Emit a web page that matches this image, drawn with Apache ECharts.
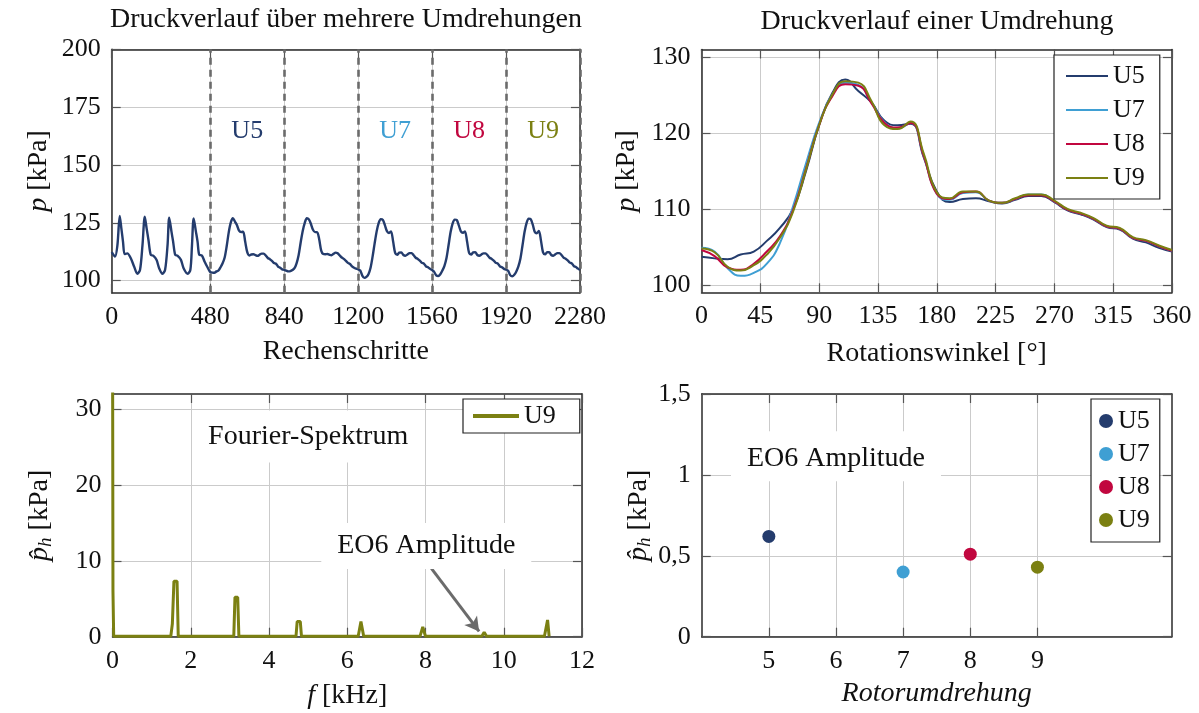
<!DOCTYPE html>
<html>
<head>
<meta charset="utf-8">
<script src="https://cdn.jsdelivr.net/npm/echarts@6/dist/echarts.min.js"></script>
<style>
  html, body { margin: 0; padding: 0; background: #ffffff; }
  #chart { width: 1199px; height: 713px; }
</style>
</head>
<body>
<div id="chart"></div>
<script>
// ---------------------------------------------------------------------------
// Messdaten
// ---------------------------------------------------------------------------

// Rechenschritte: Achsenteilung = Grenzen der Umdrehungen
const schrittTicks = [0, 480, 840, 1200, 1560, 1920, 2280];

// Anlauf vor der ersten ausgewerteten Umdrehung (Schritt, Druck in kPa)
const anlaufSchritt = [0, 16, 28, 39, 47, 55, 63, 76, 93, 109, 125, 138, 150, 161, 170, 179, 190, 202, 218, 231,
                       247, 260, 272, 280, 291, 299, 309, 320, 337, 350, 370, 383, 391, 399, 410, 418, 426, 439, 452, 467];
const anlaufDruck   = [112.3, 110.4, 115.5, 128.0, 122.6, 116.9, 111.5, 111.8, 109.7, 106.1, 103.0, 104.7, 115.5, 127.6, 122.6, 117.6, 111.2, 110.8, 109.0, 105.4,
                       103.0, 104.7, 115.5, 127.2, 121.2, 116.9, 111.2, 110.8, 109.0, 105.4, 103.0, 104.7, 115.5, 126.9, 121.2, 116.9, 111.2, 110.9, 108.3, 105.7];

// Rotationswinkel einer Umdrehung in Grad
const winkel = [0, 10, 20, 30, 40, 50, 60, 70, 80, 90, 100, 110, 120, 130, 140, 150, 160, 170, 180,
                190, 200, 210, 220, 230, 240, 250, 260, 270, 280, 290, 300, 310, 320, 330, 340, 350, 360];

// Druck je Umdrehung in kPa
const druckU5 = [103.7, 103.5, 103.4, 104.0, 104.4, 105.8, 107.5, 110.0, 115.0, 121.0, 125.2, 127.0, 125.5, 124.0, 121.6, 121.0, 121.2, 116.8, 112.3,
                 110.9, 111.3, 111.4, 111.0, 110.7, 111.2, 111.7, 111.7, 110.9, 109.8, 109.3, 108.6, 107.6, 107.3, 106.1, 105.6, 104.9, 104.4];
const druckU6 = [104.7, 104.3, 104.0, 104.1, 104.6, 105.4, 107.5, 111.0, 116.5, 121.5, 125.0, 127.0, 126.5, 124.5, 122.0, 121.0, 121.0, 118.0, 113.0,
                 111.5, 111.4, 111.5, 111.2, 111.0, 111.6, 112.1, 111.8, 110.9, 110.0, 109.4, 108.6, 107.7, 107.2, 106.2, 105.6, 105.2, 105.0];
const druckU7 = [104.9, 104.4, 102.2, 101.2, 101.6, 102.8, 105.5, 110.3, 116.0, 121.3, 125.0, 126.6, 126.3, 124.0, 121.4, 120.6, 121.3, 117.0, 112.0,
                 111.2, 112.1, 112.2, 111.1, 110.8, 111.3, 111.9, 111.9, 111.0, 109.9, 109.4, 108.7, 107.7, 107.4, 106.2, 105.8, 105.1, 104.5];
const druckU8 = [104.6, 103.8, 102.3, 102.0, 102.8, 104.4, 106.4, 109.8, 115.3, 121.0, 124.8, 126.4, 126.2, 123.9, 121.3, 120.7, 121.3, 117.0, 112.0,
                 111.3, 112.2, 112.3, 111.1, 110.8, 111.3, 111.8, 111.8, 111.0, 109.9, 109.4, 108.7, 107.7, 107.4, 106.2, 105.8, 105.1, 104.5];
const druckU9 = [104.8, 104.3, 102.4, 101.9, 102.6, 104.0, 106.2, 109.6, 115.2, 121.0, 125.0, 126.8, 126.6, 124.2, 121.0, 120.5, 121.5, 117.3, 112.2,
                 111.4, 112.3, 112.3, 111.1, 110.8, 111.4, 111.9, 111.9, 111.1, 110.0, 109.5, 108.8, 107.8, 107.5, 106.3, 105.9, 105.2, 104.6];

// Fourier-Spektrum U9: Frequenz in kHz, Amplitude in kPa
const frequenz  = [0, 0.012, 0.03, 1.49, 1.53, 1.56, 1.57, 1.65, 1.68, 3.10, 3.13, 3.20, 3.23, 4.69, 4.72, 4.80, 4.83,
                   6.28, 6.35, 6.42, 7.86, 7.93, 8.00, 9.44, 9.50, 9.56, 11.04, 11.12, 11.16];
const amplitude = [45, 6, 0.05, 0.05, 1.7, 1.8, 7.3, 7.3, 0.05, 0.05, 5.2, 5.2, 0.05, 0.05, 2.0, 2.0, 0.05,
                   0.05, 2.0, 0.05, 0.05, 1.3, 0.05, 0.05, 0.6, 0.05, 0.05, 2.2, 0.05];

// EO6-Amplitude je Rotorumdrehung
const umdrehung    = [5, 7, 8, 9];
const eo6Amplitude = [0.62, 0.40, 0.51, 0.43];
const namen        = ['U5', 'U7', 'U8', 'U9'];

// ---------------------------------------------------------------------------
// Darstellung
// ---------------------------------------------------------------------------
const FONT = '"Liberation Serif", "Times New Roman", serif';
const FS = 26;      // Ziffern und Legenden
const FW = 28;      // Titel, Achsennamen, Hinweise
const TEXT = '#111111';
const farben = ['#243c6d', '#3f9fd3', '#c1073f', '#7b8012'];
const GRAU = '#6b6b6b';

// Durchgehender Verlauf: Anlauf + Umdrehungen U5 ... U9
const umlaeufe = [druckU5, druckU6, druckU7, druckU8, druckU9];
const verlauf = anlaufSchritt.map((s, i) => [s, anlaufDruck[i]]);
umlaeufe.forEach((werte, k) => {
  const start = schrittTicks[k + 1];
  werte.forEach((p, i) => {
    if (i === werte.length - 1 && k < umlaeufe.length - 1) return;
    verlauf.push([start + winkel[i], p]);
  });
});

// Beschriftung der Umdrehungen im Verlauf (U6 ohne Beschriftung)
const markenIndex = [1, 3, 4, 5];

function achsenPaar(dim, gridIndex, min, max, ticks, extra) {
  const tickOpt = Array.isArray(ticks) ? { customValues: ticks } : {};
  const iv = Array.isArray(ticks) ? {} : { interval: ticks };
  const common = Object.assign({
    type: 'value', gridIndex, min, max,
    axisLine: { show: true, onZero: false, lineStyle: { color: '#2a2a2a', width: 1.5 } },
    axisTick: Object.assign({ show: true, inside: true, length: 9, lineStyle: { color: '#555555', width: 1.2 } }, tickOpt)
  }, iv);
  const main = Object.assign({}, common, {
    position: dim === 'x' ? 'bottom' : 'left',
    axisLabel: Object.assign({ color: TEXT, fontFamily: FONT, fontSize: FS, margin: 11, formatter: v => String(v) },
                             tickOpt, (extra && extra.label) || {}),
    splitLine: { show: true, lineStyle: { color: '#cbcbcb', width: 1 } },
    nameLocation: 'middle',
    nameTextStyle: Object.assign({ color: TEXT, fontFamily: FONT, fontSize: FW }, (extra && extra.nameStyle) || {})
  }, (extra && extra.axis) || {});
  const mirror = Object.assign({}, common, {
    position: dim === 'x' ? 'top' : 'right',
    axisLabel: { show: false },
    splitLine: { show: false }
  });
  return [main, mirror];
}

const kommaFormat = v => String(v).replace('.', ',');

const xAxes = [].concat(
  achsenPaar('x', 0, 0, 2280, schrittTicks, { axis: { name: 'Rechenschritte', nameGap: 45 } }),
  achsenPaar('x', 1, 0, 360, 45, { axis: { name: 'Rotationswinkel [°]', nameGap: 47 } }),
  achsenPaar('x', 2, 0, 12, 2, { axis: { name: '{i|f} [kHz]', nameGap: 45 },
    nameStyle: { rich: { i: { fontStyle: 'italic', fontSize: FW, fontFamily: FONT } } } }),
  achsenPaar('x', 3, 4, 11, [5, 6, 7, 8, 9], { axis: { name: 'Rotorumdrehung', nameGap: 43 },
    nameStyle: { fontStyle: 'italic' } })
);

const yRich = {
  i: { fontStyle: 'italic', fontSize: FW, fontFamily: FONT, lineHeight: 32 },
  s: { fontStyle: 'italic', fontSize: 19, fontFamily: FONT, lineHeight: 19, verticalAlign: 'bottom' }
};

const yAxes = [].concat(
  achsenPaar('y', 0, 94.8, 200, [100, 125, 150, 175, 200], { axis: { name: '{i|p} [kPa]', nameGap: 57 },
    nameStyle: { rich: yRich } }),
  achsenPaar('y', 1, 99.04, 130.96, [100, 110, 120, 130], { axis: { name: '{i|p} [kPa]', nameGap: 59 },
    nameStyle: { rich: yRich } }),
  achsenPaar('y', 2, 0, 32, [0, 10, 20, 30], { axis: { name: '{i|p̂}{s|h} [kPa]', nameGap: 57 },
    nameStyle: { rich: yRich } }),
  achsenPaar('y', 3, 0, 1.5, [0, 0.5, 1, 1.5], { axis: { name: '{i|p̂}{s|h} [kPa]', nameGap: 47 },
    nameStyle: { rich: yRich }, label: { formatter: kommaFormat } })
);

const boxLabel = { show: true, position: 'inside', fontFamily: FONT, fontSize: FW, color: TEXT };

const series = [];

// Druckverlauf über mehrere Umdrehungen
series.push({
  type: 'line', name: 'Verlauf', xAxisIndex: 0, yAxisIndex: 0,
  data: verlauf, symbol: 'none', smooth: 0.3,
  lineStyle: { color: farben[0], width: 2.4 },
  markLine: {
    silent: true, symbol: 'none', label: { show: false },
    lineStyle: { color: GRAU, width: 2.6, type: [7, 5] },
    data: schrittTicks.slice(1).map(s => ({ xAxis: s }))
  },
  markPoint: {
    silent: true, symbol: 'rect', symbolSize: 1, itemStyle: { color: 'rgba(0,0,0,0)' },
    label: Object.assign({}, boxLabel, { fontSize: FS }),
    data: markenIndex.map((b, i) => ({
      coord: [(schrittTicks[b] + schrittTicks[b + 1]) / 2, 164.5],
      label: { formatter: namen[i], color: farben[i] }
    }))
  }
});

// Druckverlauf einer Umdrehung
[druckU5, druckU7, druckU8, druckU9].forEach((werte, i) => {
  series.push({
    type: 'line', name: namen[i], xAxisIndex: 2, yAxisIndex: 2,
    data: winkel.map((w, j) => [w, werte[j]]), symbol: 'none', smooth: 0.5,
    color: farben[i], lineStyle: { color: farben[i], width: 2 }
  });
});

// Fourier-Spektrum U9
series.push({
  type: 'line', name: 'U9 FFT', xAxisIndex: 4, yAxisIndex: 4,
  data: frequenz.map((f, i) => [f, amplitude[i]]), symbol: 'none',
  color: farben[3], lineStyle: { color: farben[3], width: 3 },
  markPoint: {
    silent: true, symbol: 'rect', itemStyle: { color: '#ffffff' }, label: boxLabel,
    data: [
      { coord: [5.0, 26.4], symbolSize: [232, 52], label: { formatter: 'Fourier-Spektrum' } },
      { coord: [8.02, 11.97], symbolSize: [210, 46], label: { formatter: 'EO6 Amplitude' } }
    ]
  },
  markLine: {
    silent: true, symbol: ['none', 'arrow'], symbolSize: [12, 14], label: { show: false },
    lineStyle: { color: GRAU, width: 3, type: 'solid' },
    data: [[{ coord: [8.15, 9.0] }, { coord: [9.37, 0.7] }]]
  }
});

// EO6-Amplitude je Umdrehung
umdrehung.forEach((u, i) => {
  const s = {
    type: 'scatter', name: namen[i] + ' EO6', xAxisIndex: 6, yAxisIndex: 6,
    data: [[u, eo6Amplitude[i]]], symbol: 'circle', symbolSize: 13,
    itemStyle: { color: farben[i], opacity: 1 }
  };
  if (i === 0) {
    s.markPoint = {
      silent: true, symbol: 'rect', itemStyle: { color: '#ffffff' }, label: boxLabel,
      data: [{ coord: [6.0, 1.115], symbolSize: [210, 50], label: { formatter: 'EO6 Amplitude', offset: [0, 2] } }]
    };
  }
  series.push(s);
});

const legendBasis = {
  orient: 'vertical', backgroundColor: '#ffffff', borderColor: '#222222', borderWidth: 1.2,
  borderRadius: 0, selectedMode: false,
  textStyle: { color: TEXT, fontFamily: FONT, fontSize: FS },
  formatter: n => n.split(' ')[0]
};

const option = {
  animation: false,
  backgroundColor: '#ffffff',
  textStyle: { fontFamily: FONT },
  grid: [
    { left: 111.7, top: 49.3, width: 468.3, height: 243.4 },
    { left: 701.5, top: 49.5, width: 470.5, height: 242.8 },
    { left: 112.5, top: 394, width: 469.5, height: 242.7 },
    { left: 701.7, top: 394, width: 470, height: 242.7 }
  ],
  xAxis: xAxes,
  yAxis: yAxes,
  legend: [
    Object.assign({}, legendBasis, {
      data: ['U5', 'U7', 'U8', 'U9'], left: 1054, top: 55, icon: 'rect',
      itemWidth: 42, itemHeight: 2, itemGap: 8, itemTextGap: 9, padding: [8, 15, 8, 12]
    }),
    Object.assign({}, legendBasis, {
      data: ['U9 FFT'], left: 463, top: 399, icon: 'rect',
      itemWidth: 46, itemHeight: 4, itemGap: 8, itemTextGap: 10, padding: [4, 24, 4, 10]
    }),
    Object.assign({}, legendBasis, {
      data: namen.map(n => n + ' EO6'), left: 1091, top: 399, icon: 'circle',
      itemWidth: 14, itemHeight: 14, itemGap: 7, itemTextGap: 3, padding: [9, 10, 9, 8]
    })
  ],
  graphic: [
    { type: 'text', x: 346, y: 20, silent: true,
      style: { text: 'Druckverlauf über mehrere Umdrehungen', fill: TEXT, font: FW + 'px ' + FONT, textAlign: 'center', textVerticalAlign: 'middle' } },
    { type: 'text', x: 937, y: 22, silent: true,
      style: { text: 'Druckverlauf einer Umdrehung', fill: TEXT, font: FW + 'px ' + FONT, textAlign: 'center', textVerticalAlign: 'middle' } }
  ],
  series
};

const chart = echarts.init(document.getElementById('chart'), null, { renderer: 'canvas' });
chart.setOption(option);
</script>
</body>
</html>
